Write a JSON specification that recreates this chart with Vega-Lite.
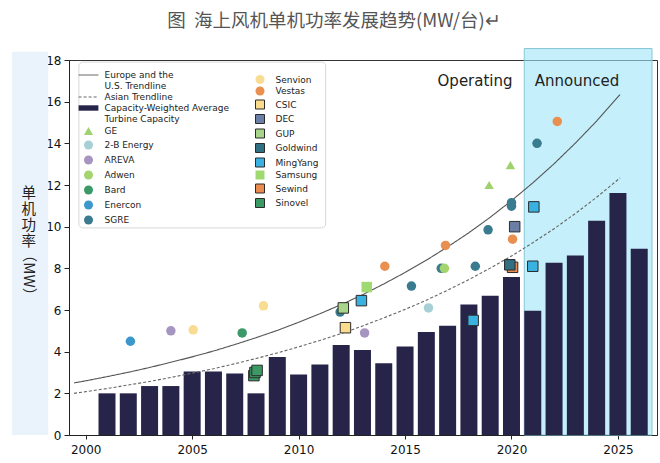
{
  "$schema": "https://vega.github.io/schema/vega-lite/v6.json",
  "width": 588,
  "height": 375,
  "autosize": {"type": "none"},
  "padding": {"left": 69, "top": 60, "right": 3, "bottom": 28},
  "background": "#ffffff",
  "title": {
    "text": "图\u00a0\u00a0海上风机单机功率发展趋势(MW/台)↵",
    "font": "Noto Sans CJK SC",
    "fontSize": 18.5,
    "fontWeight": "normal",
    "color": "#555555",
    "anchor": "middle",
    "baseline": "middle",
    "dx": -29,
    "offset": 9
  },
  "config": {
    "font": "DejaVu Sans",
    "view": {"stroke": "#333333", "strokeWidth": 1},
    "axis": {
      "domainColor": "#222222",
      "tickColor": "#222222",
      "labelFont": "DejaVu Sans",
      "labelFontSize": 12,
      "labelColor": "#111111",
      "gridColor": "#cccccc",
      "gridWidth": 1,
      "title": null
    },
    "legend": {
      "orient": "none",
      "symbolSize": 81,
      "symbolOffset": 5.5,
      "labelOffset": 11,
      "labelFont": "DejaVu Sans",
      "labelFontSize": 9,
      "labelColor": "#222222",
      "labelLimit": 220,
      "rowPadding": 0,
      "padding": 4,
      "symbolStrokeWidth": 1,
      "symbolOpacity": 1
    }
  },
  "datasets": {
    "bars": [
      {"year": 2001, "value": 2.0}, {"year": 2002, "value": 2.0}, {"year": 2003, "value": 2.35},
      {"year": 2004, "value": 2.35}, {"year": 2005, "value": 3.05}, {"year": 2006, "value": 3.05},
      {"year": 2007, "value": 2.95}, {"year": 2008, "value": 2.0}, {"year": 2009, "value": 3.75},
      {"year": 2010, "value": 2.9}, {"year": 2011, "value": 3.38}, {"year": 2012, "value": 4.32},
      {"year": 2013, "value": 4.08}, {"year": 2014, "value": 3.45}, {"year": 2015, "value": 4.25},
      {"year": 2016, "value": 4.95}, {"year": 2017, "value": 5.25}, {"year": 2018, "value": 6.27},
      {"year": 2019, "value": 6.68}, {"year": 2020, "value": 7.58}, {"year": 2021, "value": 5.97},
      {"year": 2022, "value": 8.27}, {"year": 2023, "value": 8.62}, {"year": 2024, "value": 10.28},
      {"year": 2025, "value": 11.62}, {"year": 2026, "value": 8.94}
    ],
    "trend": [
      {"series": "Europe and the U.S. Trendline", "year": 1999.45, "value": 2.5},
      {"series": "Europe and the U.S. Trendline", "year": 2000, "value": 2.6},
      {"series": "Europe and the U.S. Trendline", "year": 2001, "value": 2.8},
      {"series": "Europe and the U.S. Trendline", "year": 2002, "value": 3.01},
      {"series": "Europe and the U.S. Trendline", "year": 2003, "value": 3.24},
      {"series": "Europe and the U.S. Trendline", "year": 2004, "value": 3.49},
      {"series": "Europe and the U.S. Trendline", "year": 2005, "value": 3.75},
      {"series": "Europe and the U.S. Trendline", "year": 2006, "value": 4.03},
      {"series": "Europe and the U.S. Trendline", "year": 2007, "value": 4.34},
      {"series": "Europe and the U.S. Trendline", "year": 2008, "value": 4.67},
      {"series": "Europe and the U.S. Trendline", "year": 2009, "value": 5.02},
      {"series": "Europe and the U.S. Trendline", "year": 2010, "value": 5.41},
      {"series": "Europe and the U.S. Trendline", "year": 2011, "value": 5.82},
      {"series": "Europe and the U.S. Trendline", "year": 2012, "value": 6.26},
      {"series": "Europe and the U.S. Trendline", "year": 2013, "value": 6.73},
      {"series": "Europe and the U.S. Trendline", "year": 2014, "value": 7.25},
      {"series": "Europe and the U.S. Trendline", "year": 2015, "value": 7.8},
      {"series": "Europe and the U.S. Trendline", "year": 2016, "value": 8.39},
      {"series": "Europe and the U.S. Trendline", "year": 2017, "value": 9.03},
      {"series": "Europe and the U.S. Trendline", "year": 2018, "value": 9.71},
      {"series": "Europe and the U.S. Trendline", "year": 2019, "value": 10.45},
      {"series": "Europe and the U.S. Trendline", "year": 2020, "value": 11.25},
      {"series": "Europe and the U.S. Trendline", "year": 2021, "value": 12.1},
      {"series": "Europe and the U.S. Trendline", "year": 2022, "value": 13.02},
      {"series": "Europe and the U.S. Trendline", "year": 2023, "value": 14.01},
      {"series": "Europe and the U.S. Trendline", "year": 2024, "value": 15.07},
      {"series": "Europe and the U.S. Trendline", "year": 2025.1, "value": 16.34},
      {"series": "Asian Trendline", "year": 1999.45, "value": 2.0},
      {"series": "Asian Trendline", "year": 2000, "value": 2.08},
      {"series": "Asian Trendline", "year": 2001, "value": 2.23},
      {"series": "Asian Trendline", "year": 2002, "value": 2.4},
      {"series": "Asian Trendline", "year": 2003, "value": 2.57},
      {"series": "Asian Trendline", "year": 2004, "value": 2.76},
      {"series": "Asian Trendline", "year": 2005, "value": 2.97},
      {"series": "Asian Trendline", "year": 2006, "value": 3.18},
      {"series": "Asian Trendline", "year": 2007, "value": 3.42},
      {"series": "Asian Trendline", "year": 2008, "value": 3.67},
      {"series": "Asian Trendline", "year": 2009, "value": 3.94},
      {"series": "Asian Trendline", "year": 2010, "value": 4.23},
      {"series": "Asian Trendline", "year": 2011, "value": 4.54},
      {"series": "Asian Trendline", "year": 2012, "value": 4.87},
      {"series": "Asian Trendline", "year": 2013, "value": 5.23},
      {"series": "Asian Trendline", "year": 2014, "value": 5.62},
      {"series": "Asian Trendline", "year": 2015, "value": 6.03},
      {"series": "Asian Trendline", "year": 2016, "value": 6.47},
      {"series": "Asian Trendline", "year": 2017, "value": 6.95},
      {"series": "Asian Trendline", "year": 2018, "value": 7.46},
      {"series": "Asian Trendline", "year": 2019, "value": 8.01},
      {"series": "Asian Trendline", "year": 2020, "value": 8.59},
      {"series": "Asian Trendline", "year": 2021, "value": 9.23},
      {"series": "Asian Trendline", "year": 2022, "value": 9.9},
      {"series": "Asian Trendline", "year": 2023, "value": 10.63},
      {"series": "Asian Trendline", "year": 2024, "value": 11.41},
      {"series": "Asian Trendline", "year": 2025.1, "value": 12.34}
    ],
    "makers": [
      {"series": "Enercon", "year": 2002.1, "value": 4.5},
      {"series": "AREVA", "year": 2004.0, "value": 5.0},
      {"series": "Senvion", "year": 2005.05, "value": 5.05},
      {"series": "Bard", "year": 2007.35, "value": 4.9},
      {"series": "Senvion", "year": 2008.35, "value": 6.2},
      {"series": "Sinovel", "year": 2007.9, "value": 2.85},
      {"series": "Sinovel", "year": 2007.95, "value": 3.0},
      {"series": "Sinovel", "year": 2008.05, "value": 3.1},
      {"series": "SGRE", "year": 2011.95, "value": 5.9},
      {"series": "GUP", "year": 2012.1, "value": 6.1},
      {"series": "CSIC", "year": 2012.2, "value": 5.15},
      {"series": "MingYang", "year": 2012.95, "value": 6.45},
      {"series": "AREVA", "year": 2013.1, "value": 4.9},
      {"series": "Samsung", "year": 2013.2, "value": 7.1},
      {"series": "Vestas", "year": 2014.05, "value": 8.1},
      {"series": "SGRE", "year": 2015.3, "value": 7.15},
      {"series": "2-B Energy", "year": 2016.1, "value": 6.1},
      {"series": "SGRE", "year": 2016.7, "value": 8.0},
      {"series": "Adwen", "year": 2016.85, "value": 8.0},
      {"series": "Vestas", "year": 2016.9, "value": 9.1},
      {"series": "MingYang", "year": 2018.2, "value": 5.5},
      {"series": "SGRE", "year": 2018.3, "value": 8.1},
      {"series": "SGRE", "year": 2018.9, "value": 9.85},
      {"series": "GE", "year": 2018.95, "value": 12.0},
      {"series": "GE", "year": 2019.95, "value": 12.95},
      {"series": "SGRE", "year": 2020.0, "value": 11.15},
      {"series": "SGRE", "year": 2020.0, "value": 10.98},
      {"series": "Vestas", "year": 2020.05, "value": 9.4},
      {"series": "DEC", "year": 2020.15, "value": 10.0},
      {"series": "Sewind", "year": 2020.05, "value": 8.05},
      {"series": "Goldwind", "year": 2019.92, "value": 8.17},
      {"series": "MingYang", "year": 2021.05, "value": 10.95},
      {"series": "MingYang", "year": 2021.0, "value": 8.1},
      {"series": "SGRE", "year": 2021.2, "value": 14.0},
      {"series": "Vestas", "year": 2022.15, "value": 15.05}
    ]
  },
  "layer": [
    {
      "data": {"values": [{"panel": "y-title"}]},
      "mark": {"type": "rect", "color": "#eaf3fb"},
      "encoding": {
        "x": {"datum": 1996.54, "type": "quantitative"},
        "x2": {"datum": 1998.24},
        "y": {"datum": 18.4, "type": "quantitative"},
        "y2": {"datum": 0}
      }
    },
    {
      "data": {"values": [{"region": "Announced"}]},
      "mark": {"type": "rect", "fill": "#9fe6f8", "fillOpacity": 0.6, "stroke": "#86c6d6", "strokeWidth": 1},
      "encoding": {
        "x": {"datum": 2020.6, "type": "quantitative"},
        "x2": {"datum": 2026.6},
        "y": {"datum": 18.55, "type": "quantitative"},
        "y2": {"datum": 0}
      }
    },
    {
      "data": {"values": [{"box": "legend"}]},
      "mark": {"type": "rect", "fill": "#ffffff", "stroke": "#d8d8d8", "strokeWidth": 1, "cornerRadius": 4},
      "encoding": {
        "x": {"datum": 1999.68, "type": "quantitative"},
        "x2": {"datum": 2011.27},
        "y": {"datum": 17.9, "type": "quantitative"},
        "y2": {"datum": 9.94}
      }
    },
    {
      "data": {"name": "bars"},
      "mark": {"type": "bar", "width": 17},
      "encoding": {
        "x": {
          "field": "year", "type": "quantitative",
          "scale": {"domain": [1999.45, 2026.6], "nice": false, "zero": false},
          "axis": {"values": [2000, 2005, 2010, 2015, 2020, 2025], "format": "d", "tickSize": 4, "labelPadding": 5, "labelFlush": false, "title": null}
        },
        "y": {
          "field": "value", "type": "quantitative",
          "scale": {"domain": [0, 18], "nice": false},
          "axis": {"values": [0, 2, 4, 6, 8, 10, 12, 14, 16, 18], "tickSize": 5, "labelPadding": 3, "title": null}
        },
        "color": {
          "datum": "Capacity-Weighted Average Turbine Capacity",
          "type": "nominal",
          "scale": {
            "domain": ["Europe and the U.S. Trendline", "Asian Trendline", "Capacity-Weighted Average Turbine Capacity", "GE", "2-B Energy", "AREVA", "Adwen", "Bard", "Enercon", "SGRE"],
            "range": ["#555555", "#666666", "#27244a", "#9fd26c", "#a7d0d6", "#a795c1", "#a3d46e", "#3c9a68", "#3c97cb", "#3a7b8f"]
          },
          "legend": {
            "title": null,
            "legendX": 5,
            "legendY": 6,
            "rowPadding": 1,
            "labelExpr": "datum.label === 'Europe and the U.S. Trendline' ? ['Europe and the', 'U.S. Trendline'] : datum.label === 'Capacity-Weighted Average Turbine Capacity' ? ['Capacity-Weighted Average', 'Turbine Capacity'] : datum.label"
          }
        }
      }
    },
    {
      "data": {"name": "trend"},
      "mark": {"type": "line", "strokeWidth": 1.1},
      "encoding": {
        "x": {"field": "year", "type": "quantitative"},
        "y": {"field": "value", "type": "quantitative"},
        "stroke": {
          "field": "series", "type": "nominal",
          "scale": {
            "domain": ["Europe and the U.S. Trendline", "Asian Trendline", "Capacity-Weighted Average Turbine Capacity", "GE", "2-B Energy", "AREVA", "Adwen", "Bard", "Enercon", "SGRE"],
            "range": ["#555555", "#666666", "transparent", "transparent", "transparent", "transparent", "transparent", "transparent", "transparent", "transparent"]
          },
          "legend": {"title": null, "legendX": 5, "legendY": 6, "rowPadding": 1}
        },
        "strokeDash": {
          "field": "series", "type": "nominal",
          "scale": {
            "domain": ["Europe and the U.S. Trendline", "Asian Trendline", "Capacity-Weighted Average Turbine Capacity", "GE", "2-B Energy", "AREVA", "Adwen", "Bard", "Enercon", "SGRE"],
            "range": [[1, 0], [3, 2], [1, 0], [1, 0], [1, 0], [1, 0], [1, 0], [1, 0], [1, 0], [1, 0]]
          },
          "legend": {"title": null, "legendX": 5, "legendY": 6, "rowPadding": 1}
        }
      }
    },
    {
      "data": {"name": "makers"},
      "transform": [{"filter": {"field": "series", "oneOf": ["GE", "2-B Energy", "AREVA", "Adwen", "Bard", "Enercon", "SGRE"]}}],
      "mark": {"type": "point", "filled": true, "opacity": 1, "strokeWidth": 1, "size": 90},
      "encoding": {
        "x": {"field": "year", "type": "quantitative"},
        "y": {"field": "value", "type": "quantitative"},
        "color": {"field": "series", "type": "nominal"},
        "stroke": {"field": "series", "type": "nominal"},
        "shape": {
          "field": "series", "type": "nominal",
          "scale": {
            "domain": ["Europe and the U.S. Trendline", "Asian Trendline", "Capacity-Weighted Average Turbine Capacity", "GE", "2-B Energy", "AREVA", "Adwen", "Bard", "Enercon", "SGRE"],
            "range": ["M-2.2,0H2.2", "M-2.2,0H2.2", "M-2.2,-0.6H2.2V0.6H-2.2Z", "triangle-up", "circle", "circle", "circle", "circle", "circle", "circle"]
          },
          "legend": {"title": null, "legendX": 5, "legendY": 6, "rowPadding": 1}
        }
      }
    },
    {
      "data": {"name": "makers"},
      "transform": [{"filter": {"field": "series", "oneOf": ["Senvion", "Vestas", "CSIC", "DEC", "GUP", "Goldwind", "MingYang", "Samsung", "Sewind", "Sinovel"]}}],
      "mark": {"type": "point", "filled": true, "opacity": 1},
      "encoding": {
        "x": {"field": "year", "type": "quantitative"},
        "y": {"field": "value", "type": "quantitative"},
        "fill": {
          "field": "series", "type": "nominal",
          "scale": {
            "domain": ["Senvion", "Vestas", "CSIC", "DEC", "GUP", "Goldwind", "MingYang", "Samsung", "Sewind", "Sinovel"],
            "range": ["#f8dc92", "#e98f50", "#f9dc8c", "#6b7ea6", "#a9d58a", "#316f82", "#39b2e2", "#a0d872", "#ea8c4f", "#3b9a64"]
          },
          "legend": {
            "title": null,
            "legendX": 177,
            "legendY": 11,
            "rowPadding": 1.5,
            "symbolType": {"expr": "datum.value === 'Senvion' || datum.value === 'Vestas' ? 'circle' : 'square'"},
            "symbolStrokeWidth": {"expr": "datum.value === 'Senvion' || datum.value === 'Vestas' || datum.value === 'Samsung' ? 0 : 1"}
          }
        },
        "shape": {
          "condition": {"test": "datum.series === 'Senvion' || datum.series === 'Vestas'", "value": "circle"},
          "value": "square"
        },
        "size": {
          "condition": {"test": "datum.series === 'Senvion' || datum.series === 'Vestas'", "value": 90},
          "value": 110
        },
        "stroke": {
          "condition": {"test": "datum.series === 'Senvion' || datum.series === 'Vestas' || datum.series === 'Samsung'", "value": "transparent"},
          "value": "#2b2b2b"
        },
        "strokeWidth": {"value": 1}
      }
    },
    {
      "data": {"values": [{"label": "Operating"}]},
      "mark": {"type": "text", "align": "right", "baseline": "alphabetic", "fontSize": 15, "font": "DejaVu Sans", "color": "#222222"},
      "encoding": {
        "x": {"datum": 2020.05, "type": "quantitative"},
        "y": {"datum": 16.75, "type": "quantitative"},
        "text": {"field": "label"}
      }
    },
    {
      "data": {"values": [{"label": "Announced"}]},
      "mark": {"type": "text", "align": "left", "baseline": "alphabetic", "fontSize": 15, "font": "DejaVu Sans", "color": "#222222"},
      "encoding": {
        "x": {"datum": 2021.09, "type": "quantitative"},
        "y": {"datum": 16.75, "type": "quantitative"},
        "text": {"field": "label"}
      }
    },
    {
      "data": {"values": [{"label": "单机功率"}]},
      "mark": {"type": "text", "align": "center", "baseline": "top", "fontSize": 14.5, "lineHeight": 16, "font": "Noto Sans CJK SC", "color": "#222222", "text": ["单", "机", "功", "率"]},
      "encoding": {
        "x": {"datum": 1997.32, "type": "quantitative"},
        "y": {"datum": 11.9, "type": "quantitative"}
      }
    },
    {
      "data": {"values": [{"label": "（MW）"}]},
      "mark": {"type": "text", "align": "center", "baseline": "middle", "angle": 90, "fontSize": 15, "font": "Noto Sans CJK SC", "color": "#222222"},
      "encoding": {
        "x": {"datum": 1997.32, "type": "quantitative"},
        "y": {"datum": 7.68, "type": "quantitative"},
        "text": {"field": "label"}
      }
    }
  ]
}
